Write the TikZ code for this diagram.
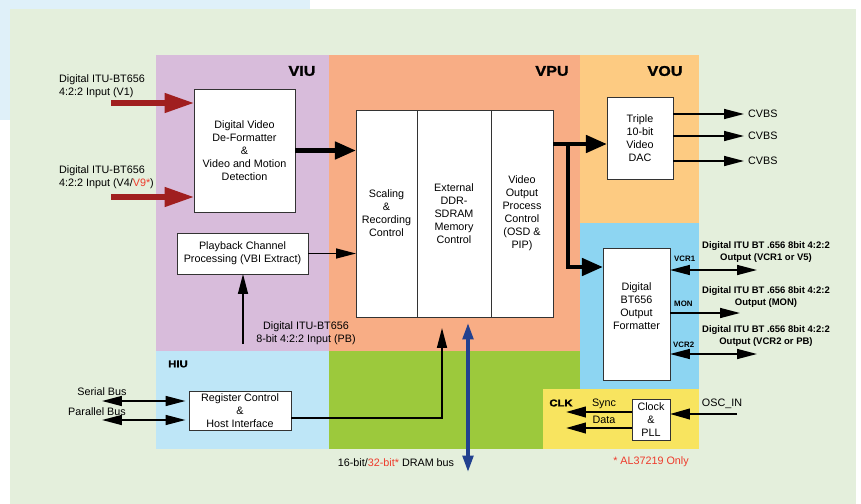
\documentclass[tikz,border=0pt]{standalone}
\usepackage{fontspec}
\setmainfont{Liberation Sans}
\newfontfamily\negrita[FakeStretch=1.15,FakeBold=1.6]{Liberation Sans}
\usetikzlibrary{arrows.meta,positioning}

\definecolor{fondoazul}{HTML}{DFF0F9}
\definecolor{fondoverde}{HTML}{E4EFDC}
\definecolor{colviu}{HTML}{D8BCDB}
\definecolor{colvpu}{HTML}{F8AD85}
\definecolor{colvou}{HTML}{FDCB82}
\definecolor{colsal}{HTML}{8DD5F2}
\definecolor{colhiu}{HTML}{BEE6F7}
\definecolor{colmem}{HTML}{9CC93C}
\definecolor{colclk}{HTML}{F8E45F}
\definecolor{rojoflecha}{HTML}{A01F1F}
\definecolor{rojotexto}{HTML}{EE3B2C}
\definecolor{azulbus}{HTML}{22418F}

\tikzset{
  bloque/.style={draw=black!80, fill=white, line width=0.8pt, align=center, inner sep=1pt, outer sep=0pt},
  titulo/.style={font=\negrita\bfseries\fontsize{12}{12}\selectfont},
  titulochico/.style={font=\negrita\bfseries\fontsize{8.4}{9}\selectfont},
  salida/.style={font=\bfseries\fontsize{8.1}{10.2}\selectfont, align=center},
  puerto/.style={font=\bfseries\fontsize{6.7}{7}\selectfont, anchor=west, inner sep=0pt},
  flecharoja/.style={rojoflecha, line width=4.3pt, -{Triangle[length=25pt,width=16pt]}},
  gruesa/.style={line width=4pt, -{Triangle[length=18pt,width=14.5pt]}},
  fina/.style={line width=1.3pt, -{Triangle[length=17pt,width=8.5pt]}},
  doble/.style={line width=1.3pt, {Triangle[length=17pt,width=8.5pt]}-{Triangle[length=17pt,width=8.5pt]}},
  media/.style={line width=2pt, -{Triangle[length=17pt,width=9pt]}},
  dram/.style={azulbus, line width=3pt, {Triangle[length=14pt,width=9pt]}-{Triangle[length=14pt,width=9pt]}}
}

\begin{document}
\begin{tikzpicture}[x=0.03cm,y=-0.03cm,font=\fontsize{9.2}{11.1}\selectfont]
\useasboundingbox (0,0) rectangle (861,504);

%fondos
\fill[fondoazul] (0,0) rectangle (310,120);
\fill[fondoverde] (10,9) rectangle (856,504);

%zonas del chip
\fill[colviu] (156,55) rectangle (329,351);
\fill[colvpu] (329,55) rectangle (580,351);
\fill[colvou] (580,55) rectangle (699,223);
\fill[colsal] (580,223) rectangle (699,389);
\fill[colhiu] (156,351) rectangle (329,449);
\fill[colmem] (329,351) rectangle (580,389);
\fill[colmem] (329,389) rectangle (543,449);
\fill[colclk] (543,389) rectangle (699,449);

%nombres de las zonas
\node[titulo] (tviu) at (302,71) {VIU};
\node[titulo] (tvpu) at (552,71) {VPU};
\node[titulo] (tvou) at (665,71) {VOU};
\node[titulochico] (thiu) at (178,364) {HIU};
\node[titulochico] (tclk) at (561,403) {CLK};

%bloques
\node[bloque, minimum width=3.03cm, minimum height=3.69cm] (dvf) at (244.5,150.5)
  {Digital Video\\De-Formatter\\\&\\Video and Motion\\Detection};
\node[bloque, minimum width=3.93cm, minimum height=1.23cm] (pbc) at (242.5,253.5)
  {Playback Channel\\Processing (VBI Extract)};
\node[bloque, minimum width=1.83cm, minimum height=6.21cm] (scl) at (386.5,213.5)
  {Scaling\\\&\\Recording\\Control};
\node[bloque, minimum width=2.22cm, minimum height=6.21cm, right=0pt of scl] (mem)
  {External\\DDR-\\SDRAM\\Memory\\Control};
\node[bloque, minimum width=1.86cm, minimum height=6.21cm, right=0pt of mem] (vop)
  {Video\\Output\\Process\\Control\\(OSD \&\\PIP)};
\node[bloque, minimum width=1.98cm, minimum height=2.46cm] (dac) at (640,138)
  {Triple\\10-bit\\Video\\DAC};
\node[bloque, minimum width=2.01cm, minimum height=3.96cm] (fmt) at (636.5,314) {};
\node[align=center] (fmttxt) at ([yshift=0.25cm]fmt.center) {Digital\\BT656\\Output\\Formatter};
\node[bloque, minimum width=3.06cm, minimum height=1.17cm] (reg) at (240,410.5)
  {Register Control\\\&\\Host Interface};
\node[bloque, minimum width=1.14cm, minimum height=1.23cm] (clk) at (651,419.5)
  {Clock\\\&\\PLL};

%entradas de video
\node[anchor=west, align=left] (lv1) at (55,86.5) {Digital ITU-BT656\\4:2:2 Input (V1)};
\node[anchor=west, align=left] (lv4) at (55,177.5)
  {Digital ITU-BT656\\4:2:2 Input (V4/\textcolor{rojotexto}{V9*})};
\coordinate (v1) at (111,103);
\coordinate (v4) at (111,197);
\draw[flecharoja] (v1) -- (v1 -| dvf.west);
\draw[flecharoja] (v4) -- (v4 -| dvf.west);

%entrada PB
\node[align=center] (lpb) at (306,333.5) {Digital ITU-BT656\\8-bit 4:2:2 Input (PB)};
\coordinate (pbin) at (243,344);
\draw[fina] (pbin) -- (pbin |- pbc.south);

%VIU a VPU
\draw[gruesa] (dvf.east) -- (dvf.east -| scl.west);
\draw[fina] (pbc.east) -- (pbc.east -| scl.west);

%VPU a VOU
\coordinate (rama) at (568,144);
\draw[gruesa] (vop.east |- rama) -- (rama -| dac.west);
\draw[gruesa] (rama) |- ([yshift=-0.57cm]fmt.north west);

%salidas CVBS
\node[anchor=west] (cv1) at (744,114) {CVBS};
\node[anchor=west] (cv2) at (744,136) {CVBS};
\node[anchor=west] (cv3) at (744,161) {CVBS};
\draw[fina] (dac.east |- cv1) -- (cv1.west);
\draw[fina] (dac.east |- cv2) -- (cv2.west);
\draw[fina] (dac.east |- cv3) -- (cv3.west);

%salidas digitales
\node[puerto] (pvcr1) at (674,259) {VCR1};
\node[puerto] (pmon) at (674,304) {MON};
\node[puerto] (pvcr2) at (673,345) {VCR2};
\node[salida] (s1) at (766,252.5) {Digital ITU BT .656 8bit 4:2:2\\Output (VCR1 or V5)};
\node[salida] (s2) at (766,297) {Digital ITU BT .656 8bit 4:2:2\\Output (MON)};
\node[salida] (s3) at (766,336) {Digital ITU BT .656 8bit 4:2:2\\Output (VCR2 or PB)};
\coordinate (o1) at (757,270);
\coordinate (o2) at (740,313);
\coordinate (o3) at (757,354);
\draw[doble] (fmt.east |- o1) -- (o1);
\draw[fina] (fmt.east |- o2) -- (o2);
\draw[doble] (fmt.east |- o3) -- (o3);

%buses del host
\node (lsb) at (102,392) {Serial Bus};
\node (lpar) at (97,412) {Parallel Bus};
\coordinate (sb) at (102,401);
\coordinate (pb) at (102,420);
\draw[doble, shorten >=3pt] (sb) -- (sb -| reg.west);
\draw[doble, shorten >=3pt] (pb) -- (pb -| reg.west);
\draw[fina] ([yshift=-0.225cm]reg.east) -| ([xshift=-0.36cm,yshift=-0.33cm]mem.south);

%bus DRAM
\coordinate (dramb) at (468,472);
\coordinate (dramt) at (468,323);
\draw[dram] (dramb) -- (dramt);
\node (ldram) at (396,463) {16-bit/\textcolor{rojotexto}{32-bit*} DRAM bus};

%reloj
\node (lsync) at (604,404) {Sync};
\node (ldata) at (604,420) {Data};
\node (losc) at (722,404) {OSC\_IN};
\coordinate (sy) at (566,412);
\coordinate (da) at (566,428);
\coordinate (osc) at (737,414);
\draw[media] (clk.west |- sy) -- (sy);
\draw[media] (clk.west |- da) -- (da);
\draw[media] (osc) -- (osc -| clk.east);

\node[text=rojotexto] (nota) at (651,462) {* AL37219 Only};
\end{tikzpicture}
\end{document}
